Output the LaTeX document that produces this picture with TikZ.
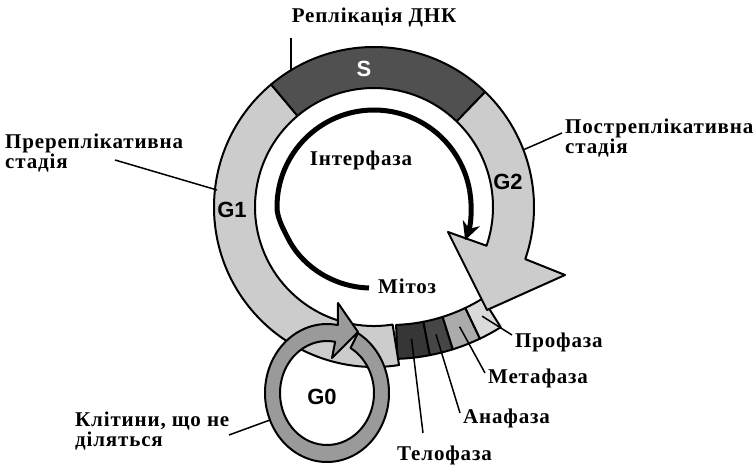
\documentclass[tikz,border=0pt]{standalone}
\usepackage{fontspec}
\setmainfont{Liberation Serif}
\newfontfamily\lblfont[LetterSpace=4,BoldFont={Liberation Serif Bold},BoldFeatures={LetterSpace=4}]{Liberation Serif}
\newfontfamily\phfont[BoldFont={Liberation Sans Bold}]{Liberation Sans}
\usetikzlibrary{arrows.meta}
\definecolor{cG}{HTML}{CCCCCC}
\definecolor{cS}{HTML}{505050}
\definecolor{cZero}{HTML}{9A9A9A}
\definecolor{cTelo}{HTML}{363636}
\definecolor{cAna}{HTML}{464646}
\definecolor{cMeta}{HTML}{ABABAB}
\definecolor{cPro}{HTML}{DADADA}
\begin{document}
\begin{tikzpicture}[x=1pt,y=1pt,
  lbl/.style={font=\lblfont\fontsize{21}{20}\selectfont\bfseries, inner sep=0pt, align=left},
  phase/.style={font=\phfont\fontsize{22}{22}\selectfont\bfseries, inner sep=0pt},
  leader/.style={line width=1.5pt},
  band/.style={draw=black, line width=2pt, line join=round},
]
\useasboundingbox (0,0) rectangle (755,469);

% mitosis band: telophase, anaphase, metaphase, prophase
\begin{scope}[shift={(390,319)}]
  \filldraw[band, fill=cTelo] (-88:209) arc[start angle=-88,end angle=-79,radius=209] -- (-79:175) arc[start angle=-79,end angle=-88,radius=175] -- cycle;
  \filldraw[band, fill=cAna] (-79:209) arc[start angle=-79,end angle=-72.5,radius=209] -- (-72.5:175) arc[start angle=-72.5,end angle=-79,radius=175] -- cycle;
  \filldraw[band, fill=cMeta] (-72.5:209) arc[start angle=-72.5,end angle=-64.5,radius=209] -- (-64.5:175) arc[start angle=-64.5,end angle=-72.5,radius=175] -- cycle;
  \filldraw[band, fill=cPro] (-64.5:209) arc[start angle=-64.5,end angle=-58,radius=209] -- (-58:175) arc[start angle=-58,end angle=-64.5,radius=175] -- cycle;
  \coordinate (pTelo) at (-83.5:190);
  \coordinate (pAna) at (-76:190);
  \coordinate (pMeta) at (-68.5:190);
  \coordinate (pPro) at (-61:190);
\end{scope}

% cell cycle ring: G1, S, G2 with arrow head
\begin{scope}[shift={(374,262)}]
  \filldraw[band, fill=cG] (130:160) arc[start angle=130,end angle=279,radius=160] -- (279:119) arc[start angle=279,end angle=130,radius=119] -- cycle;
  \filldraw[band, fill=cS] (46:160) arc[start angle=46,end angle=130,radius=160] -- (130:119) arc[start angle=130,end angle=46,radius=119] -- cycle;
  \filldraw[band, fill=cG] (46:160) arc[start angle=46,end angle=-19,radius=160] -- (191,-68) -- (113,-103) -- (74,-25) -- (-19:119) arc[start angle=-19,end angle=46,radius=119] -- cycle;
  \node[phase, text=white] (S) at (-10,138) {S};
  \node[phase] (G1) at (-142,-3) {G1};
  \node[phase] (G2) at (134,25) {G2};
  \coordinate (pS) at (-83,136);
  \coordinate (pG1) at (-157,17);
  \coordinate (pG2) at (149,57);
  % interphase arrow: spirals out from the mitosis end, then a plain arc to the head
  \coordinate (iStart) at (-5,-81);
  \coordinate (iMid) at (-84,-35);
  \coordinate (iLeft) at (180:97);
  \draw[line width=5pt, line cap=butt] (iStart) .. controls (-40,-80) and (-70,-60) .. (iMid)
    .. controls (-92,-20) and (-97,-10) .. (iLeft)
    arc[start angle=180,end angle=10,radius=97];
  \draw[line width=5pt, -{Stealth[length=18pt,width=18pt]}] (10:97) arc[start angle=10,end angle=-20,radius=97];
\end{scope}

% resting cells ring
\begin{scope}[shift={(327,76)}]
  \filldraw[band, fill=cZero] (60:62 and 69) arc[start angle=60,end angle=-280,x radius=62,y radius=69] -- (11,90) -- (31,61) -- (5,35) -- (80:47 and 52) arc[start angle=80,end angle=420,x radius=47,y radius=52] -- cycle;
  \node[phase] (G0) at (-5,-4) {G0};
  \coordinate (pZero) at (-57,-27);
\end{scope}

% labels
\node[lbl, anchor=center] (rep) at (374,452) {Реплікація ДНК};
\node[lbl, anchor=west] (pre) at (5,316) {Пререплікативна\\стадія};
\node[lbl, anchor=west] (post) at (565,331) {Постреплікативна\\стадія};
\node[lbl] (inter) at (361,309) {Інтерфаза};
\node[lbl, anchor=west] (mit) at (378,183) {Мітоз};
\node[lbl, anchor=west] (pro) at (515,127) {Профаза};
\node[lbl, anchor=west] (meta) at (488,91) {Метафаза};
\node[lbl, anchor=west] (ana) at (463,51) {Анафаза};
\node[lbl, anchor=west] (telo) at (397,14) {Телофаза};
\node[lbl, anchor=west] (rest) at (75,38) {Клітини, що не\\діляться};

% leader lines
\coordinate (eRep) at (291,431);
\coordinate (ePre) at (115,309);
\coordinate (ePost) at (562,336);
\coordinate (ePro) at (512,134);
\coordinate (eMeta) at (485,96);
\coordinate (eAna) at (460,56);
\coordinate (eTelo) at (423,36);
\coordinate (eRest) at (229,34);
\draw[leader] (eRep) -- (pS);
\draw[leader] (ePre) -- (pG1);
\draw[leader] (ePost) -- (pG2);
\draw[leader] (ePro) -- (pPro);
\draw[leader] (eMeta) -- (pMeta);
\draw[leader] (eAna) -- (pAna);
\draw[leader] (eTelo) -- (pTelo);
\draw[leader] (eRest) -- (pZero);
\end{tikzpicture}
\end{document}
